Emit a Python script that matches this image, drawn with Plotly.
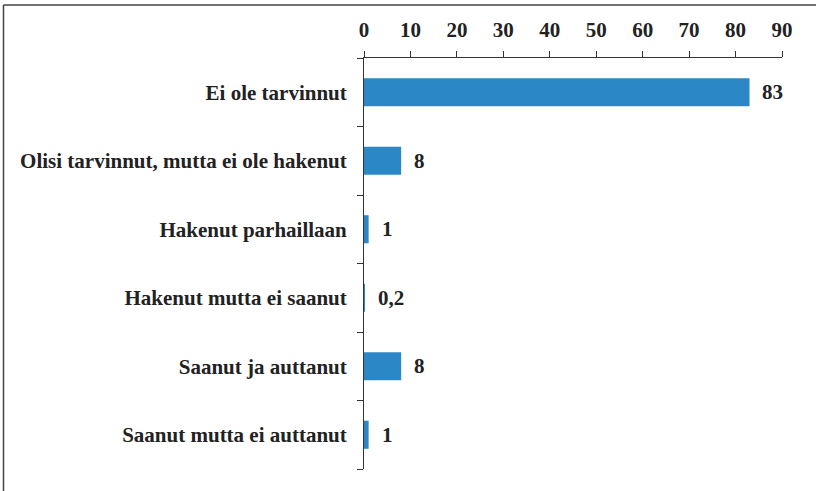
import plotly.graph_objects as go

categories = [
    "Ei ole tarvinnut",
    "Olisi tarvinnut, mutta ei ole hakenut",
    "Hakenut parhaillaan",
    "Hakenut mutta ei saanut",
    "Saanut ja auttanut",
    "Saanut mutta ei auttanut",
]
values = [83, 8, 1, 0.2, 8, 1]
value_labels = ["83", "8", "1", "0,2", "8", "1"]
x_ticks = [0, 10, 20, 30, 40, 50, 60, 70, 80, 90]

W, H = 816, 491
L, R, T, B = 364, 34, 58, 22
pw, ph = W - L - R, H - T - B

FONT = dict(family="Liberation Serif, Times New Roman, serif", size=21, color="#222222")
BAR = "#2B87C5"

fig = go.Figure(go.Bar(
    y=categories, x=values, orientation="h",
    marker=dict(color=BAR, line=dict(width=0)),
    width=0.41,
    hoverinfo="skip",
))

for c, v, t in zip(categories, values, value_labels):
    fig.add_annotation(x=v, y=c, text="<b>" + t + "</b>", showarrow=False,
                       xanchor="left", yanchor="middle", xshift=11, font=FONT)

def px_x(p):
    return (p - L) / pw

def px_y(p):
    return (H - B - p) / ph

frame = dict(color="#444444", width=1.5)
fig.add_shape(type="line", xref="paper", yref="paper",
              x0=px_x(3.5), x1=px_x(W + 5), y0=px_y(5), y1=px_y(5), line=frame)
fig.add_shape(type="line", xref="paper", yref="paper",
              x0=px_x(3.5), x1=px_x(3.5), y0=px_y(5), y1=px_y(H + 5), line=frame)

fig.update_layout(
    width=W, height=H,
    margin=dict(l=L, r=R, t=T, b=B),
    paper_bgcolor="white", plot_bgcolor="white",
    showlegend=False,
    font=FONT,
    xaxis=dict(
        side="top", range=[0, 90], tickvals=x_ticks,
        ticktext=["<b>%d</b>" % v for v in x_ticks],
        showgrid=False, zeroline=False, automargin=False,
        showline=True, linecolor="#333333", linewidth=1,
        ticks="outside", ticklen=6, tickcolor="#333333", tickwidth=1,
        ticklabelstandoff=6,
        fixedrange=True,
    ),
    yaxis=dict(
        autorange="reversed", type="category",
        tickvals=categories,
        ticktext=["<b>" + c + "</b>" for c in categories],
        showgrid=False, zeroline=False, automargin=False,
        showline=True, linecolor="#333333", linewidth=1,
        ticks="outside", ticklen=6, tickcolor="#333333", tickwidth=1,
        tickson="boundaries", ticklabelstandoff=12,
        fixedrange=True,
    ),
)

fig.write_html(
    "out.html",
    config={"displayModeBar": False},
    post_script="document.body.style.margin='0';document.body.style.overflow='hidden';",
)
